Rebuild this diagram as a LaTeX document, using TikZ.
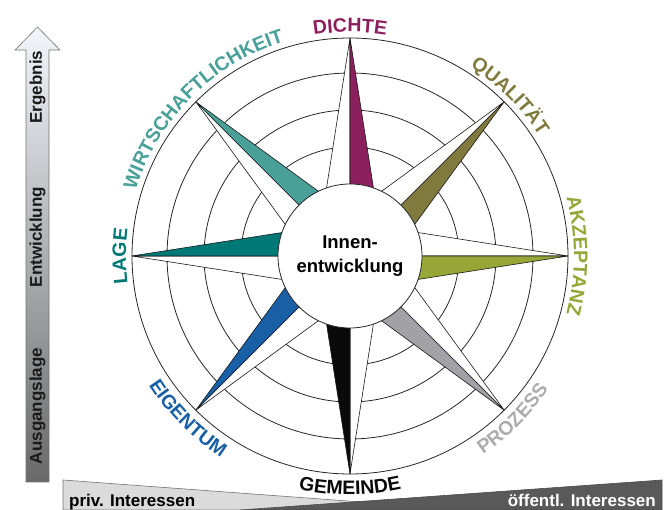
\documentclass[tikz,border=0pt]{standalone}
\usepackage{fontspec}
\setmainfont{Liberation Sans}
\usetikzlibrary{decorations.text}
\definecolor{dichte}{RGB}{140,32,95}
\definecolor{quali}{RGB}{128,122,62}
\definecolor{akz}{RGB}{150,167,55}
\definecolor{proz}{RGB}{162,162,166}
\definecolor{proztext}{RGB}{172,172,172}
\definecolor{gem}{RGB}{10,10,10}
\definecolor{eig}{RGB}{25,95,165}
\definecolor{lage}{RGB}{0,120,118}
\definecolor{wirt}{RGB}{72,160,152}
\definecolor{arrtop}{RGB}{242,246,251}
\definecolor{arrbot}{RGB}{105,105,105}
\newcommand\lblfont{\fontsize{19.5}{20}\selectfont\bfseries}
\newcommand\toplbl[4]{\path[decorate, decoration={text along path, text={|\lblfont|#3}, text align=center, text color=#2}] ({#1+#4}:224) arc[start angle={#1+#4}, end angle={#1-#4}, radius=224];}
\newcommand\botlbl[4]{\path[decorate, decoration={text along path, text={|\lblfont|#3}, text align=center, text color=#2}] ({#1-#4}:239) arc[start angle={#1-#4}, end angle={#1+#4}, radius=239];}
\begin{document}
\begin{tikzpicture}[x=1pt,y=1pt,
  ring/.style={draw=black!85, line width=0.8pt},
  ptr/.style={draw=black!90, line width=0.6pt, line join=round},
  arrtext/.style={rotate=90, font=\fontsize{17}{18}\selectfont\bfseries, text=black!90, inner sep=0pt},
  bartext/.style={font=\fontsize{17}{18}\selectfont\bfseries, inner sep=0pt}]
\useasboundingbox (0,0) rectangle (665,510);
\coordinate (C) at (350,254);
% bottom bar
\filldraw[fill=black!14, draw=black!55, line width=0.6pt] (63,0) -- (63,30) -- (470,0) -- cycle;
\filldraw[fill=black!65, draw=black!70, line width=0.6pt] (662,0) -- (662,30) -- (240,0) -- cycle;
\node[bartext, anchor=base west] (priv) at (69,3) {priv. Interessen};
\node[bartext, anchor=base east, text=white] (oeff) at (656,3) {öffentl. Interessen};
% left arrow
\shade[top color=arrtop, bottom color=arrbot] (26,28) -- (26,460) -- (15,460) -- (37.5,483) -- (60,460) -- (49,460) -- (49,28) -- cycle;
\draw[black!55, line width=0.6pt, line join=round] (26,28) -- (26,460) -- (15,460) -- (37.5,483) -- (60,460) -- (49,460) -- (49,28) -- cycle;
\node[arrtext] (erg) at (37.5,423) {Ergebnis};
\node[arrtext] (entw) at (37.5,273) {Entwicklung};
\node[arrtext] (ausg) at (37.5,104) {Ausgangslage};
% rings
\foreach \r in {109,146,183,218} \draw[ring] (C) circle[radius=\r];
\begin{scope}[shift={(C)}]
\foreach \a/\c in {90/dichte, 45/quali, 0/akz, -45/proz, -90/gem, -135/eig, 180/lage, 135/wirt} {
  \draw[ptr, fill=white] (\a:218) -- ({\a+19}:72) -- (\a:30) -- cycle;
  \draw[ptr, fill=\c] (\a:218) -- ({\a-19}:72) -- (\a:30) -- cycle;
}
\toplbl{90}{dichte}{DICHTE}{40}
\toplbl{45}{quali}{QUALITÄT}{40}
\toplbl{0}{akz}{AKZEPTANZ}{45}
\toplbl{180}{lage}{LAGE}{40}
\toplbl{135}{wirt}{WIRTSCHAFTLICHKEIT}{60}
\botlbl{-45}{proztext}{PROZESS}{40}
\botlbl{-90}{gem}{GEMEINDE}{40}
\botlbl{-135}{eig}{EIGENTUM}{40}
\end{scope}
\node[circle, draw=black!85, line width=0.8pt, fill=white, minimum size=144pt, inner sep=0pt, align=center, font=\fontsize{18.5}{24}\selectfont\bfseries] (inner) at (C) {Innen-\\entwicklung};
\end{tikzpicture}
\end{document}
